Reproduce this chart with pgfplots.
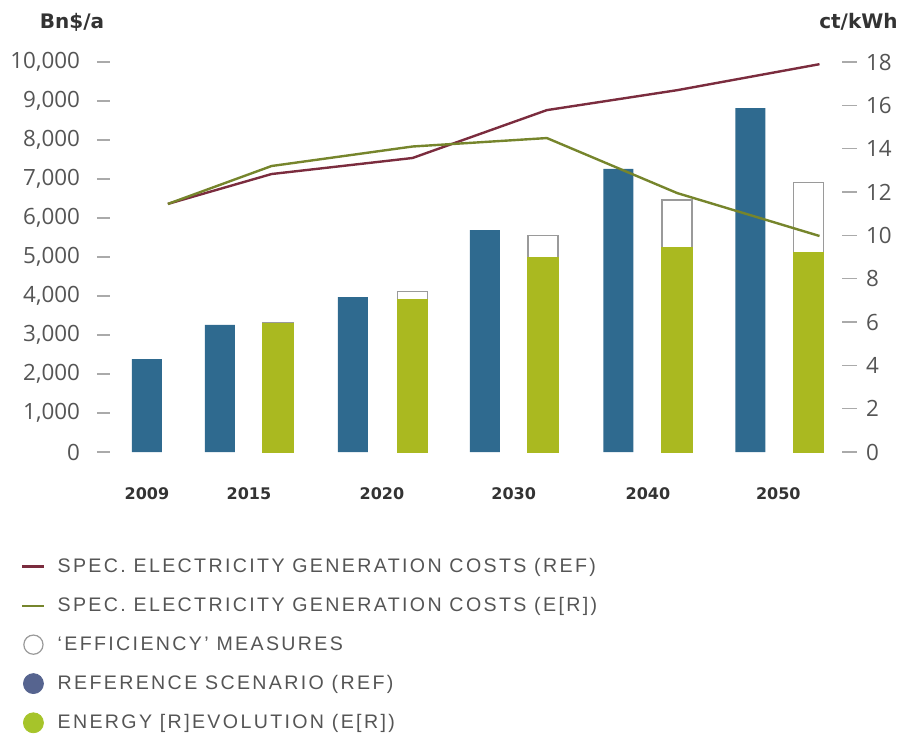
\documentclass[border=0pt]{standalone}
\usepackage{pgfplots}
\pgfplotsset{compat=1.18}
\usepackage{fontspec}
\setmainfont{Open Sans}
\newfontfamily\tickfont{Open Sans}
\newfontfamily\dvs{DejaVu Sans}
\newfontfamily\legfont{Liberation Sans}[LetterSpace=12]
\definecolor{refblue}{HTML}{2F6A8F}
\definecolor{ergreen}{HTML}{AAB920}
\definecolor{refline}{HTML}{7B2C3E}
\definecolor{erline}{HTML}{76852C}
\definecolor{effgray}{HTML}{9A9A9A}
\definecolor{ticktext}{HTML}{555555}
\definecolor{tickgray}{HTML}{AAAAAA}
\definecolor{labeldark}{HTML}{333333}
\definecolor{legblue}{HTML}{56648F}
\definecolor{leggreen}{HTML}{A6C42A}
\begin{document}
\begin{tikzpicture}
\path[use as bounding box] (0,0) rectangle (450pt,368pt);
\begin{axis}[
  at={(55pt,142pt)}, anchor=south west,
  scale only axis, width=366pt, height=195pt,
  xmin=-0.045, xmax=5.459, ymin=0, ymax=10000,
  axis line style={draw=none},
  ybar, bar width=15pt, bar shift=0pt,
  xtick={0.233,1,2,2.99,4,4.98},
  xticklabels={2009,2015,2020,2030,2040,2050},
  x tick style={draw=none},
  xticklabel style={font=\dvs\bfseries\fontsize{8}{9}\selectfont, text=labeldark, yshift=-8pt},
  ytick={0,1000,...,10000},
  ytick pos=left, xtick pos=bottom,
  y tick style={draw=tickgray, line width=0.6pt},
  tick align=outside, major tick length=6.5pt,
  yticklabel style={font=\tickfont\fontsize{11.2}{12}\selectfont, text=ticktext, xshift=-5pt},
  /pgf/number format/assume math mode=true,
  /pgf/number format/1000 sep={,},
  scaled y ticks=false,
]
\addplot[fill=refblue, draw=none] coordinates {(0.233,2380) (0.782,3260) (1.782,3970) (2.774,5690) (3.778,7260) (4.771,8820)};
\addplot[fill=white, draw=effgray, line width=0.6pt] coordinates {(1.218,3330) (2.229,4110) (3.211,5560) (4.218,6460) (5.207,6920)};
\addplot[fill=ergreen, draw=ergreen, line width=0.7pt] coordinates {(1.218,3290) (2.229,3900) (3.211,4990) (4.218,5250) (5.207,5110)};
\end{axis}
\begin{axis}[
  at={(55pt,142pt)}, anchor=south west,
  scale only axis, width=366pt, height=195pt,
  xmin=-0.045, xmax=5.459, ymin=0, ymax=18,
  axis line style={draw=none},
  hide x axis,
  ytick={0,2,...,18}, ytick pos=right,
  y tick style={draw=tickgray, line width=0.6pt},
  tick align=outside, major tick length=7.5pt,
  yticklabel style={font=\tickfont\fontsize{11.2}{12}\selectfont, text=ticktext, xshift=1pt},
  /pgf/number format/assume math mode=true,
  legend image code/.code={\draw[#1, line width=1.2pt] (0pt,0pt) -- (11pt,0pt);},
  legend cell align=left,
  legend style={at={(axis description cs:-0.13,-0.25)}, anchor=north west, draw=none, fill=none,
    font=\legfont\fontsize{9.8}{11}\selectfont, text=ticktext, row sep=7pt,
    /tikz/every odd column/.append style={column sep=4pt}},
]
\addplot[refline, line width=1.2pt] coordinates {(0.39,11.45) (1.17,12.83) (2.23,13.57) (3.24,15.78) (4.22,16.7) (5.29,17.9)};
\addlegendentry{SPEC. ELECTRICITY GENERATION COSTS (REF)}
\addplot[erline, line width=1.2pt] coordinates {(0.39,11.45) (1.17,13.2) (2.23,14.1) (3.24,14.49) (4.22,11.95) (5.29,9.97)};
\addlegendentry{SPEC. ELECTRICITY GENERATION COSTS (E[R])}
\addlegendimage{legend image code/.code={\draw[draw=effgray, fill=white, line width=0.6pt] (5.5pt,0pt) circle (4.8pt);}}
\addlegendentry{‘EFFICIENCY’ MEASURES}
\addlegendimage{legend image code/.code={\fill[legblue] (5.5pt,0pt) circle (5pt);}}
\addlegendentry{REFERENCE SCENARIO (REF)}
\addlegendimage{legend image code/.code={\fill[leggreen] (5.5pt,0pt) circle (5pt);}}
\addlegendentry{ENERGY [R]EVOLUTION (E[R])}
\end{axis}
\node[font=\dvs\bfseries\fontsize{10}{12}\selectfont, text=labeldark] at (36pt,357pt) {Bn\$/a};
\node[anchor=east, inner sep=1pt, font=\dvs\bfseries\fontsize{10}{12}\selectfont, text=labeldark] at (450pt,357pt) {ct/kWh};
\end{tikzpicture}
\end{document}
